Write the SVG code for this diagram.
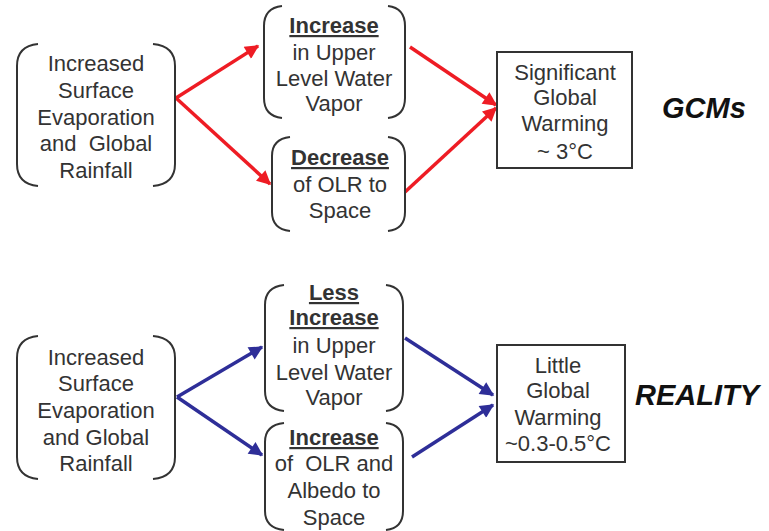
<svg xmlns="http://www.w3.org/2000/svg" width="769" height="531" viewBox="0 0 769 531">
<defs>
<style>
.t{font-family:"Liberation Sans",Arial,sans-serif;font-size:22px;fill:#333;text-anchor:middle}
.b{font-weight:bold;text-decoration:underline}
.br{fill:none;stroke:#333;stroke-width:2}
.box{fill:#fff;stroke:#333;stroke-width:2}
.lab{font-family:"Liberation Sans",Arial,sans-serif;font-weight:bold;font-style:italic;fill:#111}
.red{stroke:#ee1c24;stroke-width:3.5;fill:none}
.blue{stroke:#2e2e98;stroke-width:3.5;fill:none}
</style>
<marker id="ar" viewBox="0 0 10 10" refX="9" refY="5" markerWidth="16" markerHeight="14" markerUnits="userSpaceOnUse" orient="auto"><path d="M0,0 L10,5 L0,10 z" fill="#ee1c24"/></marker>
<marker id="ab" viewBox="0 0 10 10" refX="9" refY="5" markerWidth="16" markerHeight="14" markerUnits="userSpaceOnUse" orient="auto"><path d="M0,0 L10,5 L0,10 z" fill="#2e2e98"/></marker>
</defs>
<rect width="769" height="531" fill="#fff"/>

<g id="connectors">
<line class="red" x1="176" y1="98" x2="258" y2="46" marker-end="url(#ar)"/>
<line class="red" x1="176" y1="98" x2="270" y2="184" marker-end="url(#ar)"/>
<line class="red" x1="410" y1="47" x2="496" y2="105" marker-end="url(#ar)"/>
<line class="red" x1="405" y1="192" x2="496" y2="108" marker-end="url(#ar)"/>
<line class="blue" x1="177" y1="397" x2="262" y2="347" marker-end="url(#ab)"/>
<line class="blue" x1="177" y1="397" x2="262" y2="455" marker-end="url(#ab)"/>
<line class="blue" x1="405" y1="338" x2="493" y2="395" marker-end="url(#ab)"/>
<line class="blue" x1="412" y1="457" x2="493" y2="405" marker-end="url(#ab)"/>
</g>

<g id="gcm-cause">
<path class="br" d="M38,44 Q17,46 17,66 L17,164 Q17,184 38,186"/>
<path class="br" d="M153,44 Q175,46 175,66 L175,164 Q175,184 153,186"/>
<text class="t" x="96" y="71">Increased</text>
<text class="t" x="96" y="98">Surface</text>
<text class="t" x="96" y="125">Evaporation</text>
<text class="t" x="96" y="151" xml:space="preserve">and  Global</text>
<text class="t" x="96" y="178">Rainfall</text>
</g>

<g id="gcm-vapor">
<path class="br" d="M282,6 Q264,8 264,26 L264,98 Q264,116 282,118"/>
<path class="br" d="M388,6 Q405,8 405,26 L405,98 Q405,116 388,118"/>
<text class="t b" x="334" y="33">Increase</text>
<text class="t" x="334" y="60">in Upper</text>
<text class="t" x="334" y="86">Level Water</text>
<text class="t" x="334" y="111">Vapor</text>
</g>

<g id="gcm-olr">
<path class="br" d="M290,137 Q272,139 272,156 L272,212 Q272,229 290,231"/>
<path class="br" d="M388,137 Q405,139 405,156 L405,212 Q405,229 388,231"/>
<text class="t b" x="340" y="165">Decrease</text>
<text class="t" x="340" y="192">of OLR to</text>
<text class="t" x="340" y="218">Space</text>
</g>

<g id="gcm-result">
<rect class="box" x="497" y="52" width="135" height="116"/>
<text class="t" x="565" y="80">Significant</text>
<text class="t" x="565" y="105">Global</text>
<text class="t" x="565" y="131">Warming</text>
<text class="t" x="565" y="159">~ 3°C</text>
</g>

<g id="gcm-label">
<text class="lab" x="662" y="118" font-size="29">GCMs</text>
</g>

<g id="real-cause">
<path class="br" d="M38,336 Q17,338 17,358 L17,457 Q17,477 38,479"/>
<path class="br" d="M153,336 Q175,338 175,358 L175,457 Q175,477 153,479"/>
<text class="t" x="96" y="365">Increased</text>
<text class="t" x="96" y="391">Surface</text>
<text class="t" x="96" y="418">Evaporation</text>
<text class="t" x="96" y="445">and Global</text>
<text class="t" x="96" y="471">Rainfall</text>
</g>

<g id="real-vapor">
<path class="br" d="M284,285 Q265,287 265,305 L265,391 Q265,409 284,411"/>
<path class="br" d="M386,285 Q403,287 403,305 L403,391 Q403,409 386,411"/>
<text class="t b" x="334" y="300">Less</text>
<text class="t b" x="334" y="325">Increase</text>
<text class="t" x="334" y="353">in Upper</text>
<text class="t" x="334" y="380">Level Water</text>
<text class="t" x="334" y="405">Vapor</text>
</g>

<g id="real-olr">
<path class="br" d="M284,423 Q265,425 265,442 L265,511 Q265,528 284,530"/>
<path class="br" d="M386,423 Q403,425 403,442 L403,511 Q403,528 386,530"/>
<text class="t b" x="334" y="445">Increase</text>
<text class="t" x="334" y="471" xml:space="preserve">of  OLR and</text>
<text class="t" x="334" y="498">Albedo to</text>
<text class="t" x="334" y="525">Space</text>
</g>

<g id="real-result">
<rect class="box" x="497" y="345" width="128" height="117"/>
<text class="t" x="558" y="373">Little</text>
<text class="t" x="558" y="398">Global</text>
<text class="t" x="558" y="425">Warming</text>
<text class="t" x="558" y="451">~0.3-0.5°C</text>
</g>

<g id="real-label">
<text class="lab" x="635" y="405" font-size="29">REALITY</text>
</g>
</svg>
